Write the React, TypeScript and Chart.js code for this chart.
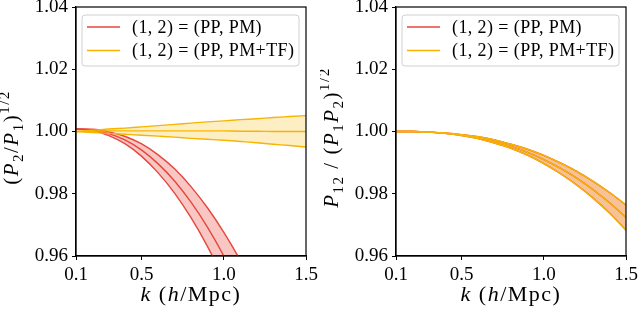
import React, { useEffect, useRef } from "react";
import { Chart, registerables } from "chart.js";

Chart.register(...registerables);

// ---------- data ----------
const K = [0.1, 0.2, 0.3, 0.4, 0.5, 0.6, 0.7, 0.8, 0.9, 1.0, 1.1, 1.2, 1.3, 1.4, 1.5];
const K_RED_LEFT = [0.1, 0.2, 0.3, 0.4, 0.5, 0.6, 0.7, 0.8, 0.9, 1.0, 1.1, 1.2];

const X_TICKS = [0.1, 0.5, 1.0, 1.5];
const Y_TICKS = [0.96, 0.98, 1.0, 1.02, 1.04];

// left panel: (P2/P1)^1/2
const L_RED_CENTER = [1.0008, 1.0005, 0.9993, 0.9972, 0.994, 0.9896, 0.9841, 0.9773, 0.9693, 0.96, 0.9494, 0.9374];
const L_RED_UPPER = [1.0008, 1.0007, 0.9999, 0.9984, 0.996, 0.9925, 0.988, 0.9823, 0.9755, 0.9676, 0.9586, 0.9484];
const L_RED_LOWER = [1.0008, 1.0003, 0.9987, 0.996, 0.992, 0.9867, 0.9802, 0.9723, 0.9631, 0.9524, 0.9402, 0.9264];

const L_YEL_CENTER = [1.0, 1.0001, 1.0002, 1.0002, 1.0002, 1.0002, 1.0002, 1.0002, 1.0002, 1.0002, 1.0001, 1.0001, 1.0, 1.0, 1.0];
const L_YEL_UPPER = [1.0, 1.0004, 1.0008, 1.0011, 1.0015, 1.0019, 1.0023, 1.0027, 1.0031, 1.0034, 1.0038, 1.0041, 1.0045, 1.0048, 1.0051];
const L_YEL_LOWER = [1.0, 0.9997, 0.9994, 0.9991, 0.9988, 0.9985, 0.9982, 0.9978, 0.9975, 0.9972, 0.9968, 0.9964, 0.9959, 0.9955, 0.995];

// right panel: P12 / (P1 P2)^1/2
const R_RED_CENTER = [1.0, 1.0, 0.9998, 0.9994, 0.9989, 0.998, 0.9968, 0.9952, 0.9933, 0.991, 0.9882, 0.985, 0.9813, 0.9771, 0.9724];
const R_RED_UPPER = [1.0, 1.0, 0.9998, 0.9995, 0.999, 0.9983, 0.9973, 0.9959, 0.9943, 0.9923, 0.9899, 0.9872, 0.984, 0.9804, 0.9764];
const R_RED_LOWER = [1.0, 1.0, 0.9998, 0.9994, 0.9987, 0.9977, 0.9963, 0.9946, 0.9924, 0.9897, 0.9865, 0.9828, 0.9786, 0.9738, 0.9683];

const R_YEL_CENTER = [1.0, 1.0, 0.9998, 0.9994, 0.9989, 0.998, 0.9968, 0.9952, 0.9933, 0.991, 0.9882, 0.985, 0.9813, 0.9771, 0.9724];
const R_YEL_UPPER = [1.0, 1.0, 0.9998, 0.9995, 0.999, 0.9983, 0.9973, 0.9959, 0.9943, 0.9923, 0.9899, 0.9872, 0.984, 0.9804, 0.9764];
const R_YEL_LOWER = [1.0, 1.0, 0.9998, 0.9994, 0.9987, 0.9977, 0.9963, 0.9946, 0.9924, 0.9897, 0.9865, 0.9828, 0.9786, 0.9738, 0.9683];

const LEGEND_LABELS = ["(1, 2) = (PP, PM)", "(1, 2) = (PP, PM+TF)"];

// ---------- styles ----------
const FONT = '"Liberation Serif", "DejaVu Serif", serif';
const RED = "#e8453c";
const RED_FILL = "rgba(232,69,60,0.30)";
const YEL = "#f7b500";
const YEL_FILL = "rgba(247,181,0,0.23)";

type Seg = { t: string; it?: boolean; sc?: "sub" | "sup" };

const X_TITLE: Seg[] = [{ t: "k", it: true }, { t: " (" }, { t: "h", it: true }, { t: "/Mpc)" }];
const Y_TITLE_LEFT: Seg[] = [
  { t: "(" }, { t: "P", it: true }, { t: "2", sc: "sub" }, { t: "/" },
  { t: "P", it: true }, { t: "1", sc: "sub" }, { t: ")" }, { t: "1/2", sc: "sup" },
];
const Y_TITLE_RIGHT: Seg[] = [
  { t: "P", it: true }, { t: "12", sc: "sub" }, { t: " / (" },
  { t: "P", it: true }, { t: "1", sc: "sub" }, { t: "P", it: true }, { t: "2", sc: "sub" },
  { t: ")" }, { t: "1/2", sc: "sup" },
];

function drawRich(
  ctx: CanvasRenderingContext2D,
  segs: Seg[],
  cx: number,
  cy: number,
  rotate: boolean,
  size: number,
  spacing: number
) {
  ctx.save();
  ctx.translate(cx, cy);
  if (rotate) ctx.rotate(-Math.PI / 2);
  (ctx as any).letterSpacing = `${spacing}px`;
  const fontFor = (s: Seg) => `${s.it ? "italic " : ""}${s.sc ? Math.round(size * 0.7) : size}px ${FONT}`;
  const widths: number[] = [];
  let total = 0;
  for (const s of segs) {
    ctx.font = fontFor(s);
    const w = ctx.measureText(s.t).width;
    widths.push(w);
    total += w;
  }
  let x = -total / 2;
  ctx.textBaseline = "alphabetic";
  ctx.textAlign = "left";
  ctx.fillStyle = "#000";
  const base = size * 0.33;
  segs.forEach((s, i) => {
    ctx.font = fontFor(s);
    const dy = s.sc === "sub" ? size * 0.22 : s.sc === "sup" ? -size * 0.42 : 0;
    ctx.fillText(s.t, x, base + dy);
    x += widths[i];
  });
  ctx.restore();
}

function line(label: string, xs: number[], ys: number[], color: string, fill: any, bg: string) {
  return {
    label,
    data: xs.map((x, i) => ({ x, y: ys[i] })),
    borderColor: color,
    backgroundColor: bg,
    borderWidth: 1.4,
    pointRadius: 0,
    fill,
    cubicInterpolationMode: "monotone" as const,
  };
}

function makeDeco(yTitle: Seg[]) {
  return {
    id: "deco",
    afterDraw(chart: any) {
      const ctx: CanvasRenderingContext2D = chart.ctx;
      const a = chart.chartArea;
      ctx.save();
      ctx.strokeStyle = "#000";
      ctx.lineWidth = 1.2;
      ctx.strokeRect(a.left, a.top, a.right - a.left, a.bottom - a.top);
      ctx.restore();

      // legend
      const lx = a.left + 6, ly = a.top + 8, lw = 217, lh = 51;
      ctx.save();
      ctx.beginPath();
      const r = 3;
      ctx.moveTo(lx + r, ly);
      ctx.arcTo(lx + lw, ly, lx + lw, ly + lh, r);
      ctx.arcTo(lx + lw, ly + lh, lx, ly + lh, r);
      ctx.arcTo(lx, ly + lh, lx, ly, r);
      ctx.arcTo(lx, ly, lx + lw, ly, r);
      ctx.closePath();
      ctx.fillStyle = "rgba(255,255,255,0.8)";
      ctx.fill();
      ctx.strokeStyle = "#d0d0d0";
      ctx.lineWidth = 1;
      ctx.stroke();
      const colors = [RED, YEL];
      LEGEND_LABELS.forEach((lab, i) => {
        const yy = ly + 12 + i * 23.5;
        ctx.strokeStyle = colors[i];
        ctx.lineWidth = 1.6;
        ctx.beginPath();
        ctx.moveTo(lx + 5, yy);
        ctx.lineTo(lx + 38, yy);
        ctx.stroke();
        ctx.fillStyle = "#000";
        ctx.font = `18px ${FONT}`;
        (ctx as any).letterSpacing = "0.4px";
        ctx.textBaseline = "middle";
        ctx.textAlign = "left";
        ctx.fillText(lab, lx + 50, yy + 1);
      });
      ctx.restore();

      // axis titles
      drawRich(ctx, X_TITLE, (a.left + a.right) / 2, 294, false, 22, 1.5);
      drawRich(ctx, yTitle, 11, (a.top + a.bottom) / 2 + 6, true, 21, 1.5);
    },
  };
}

function buildConfig(datasets: any[], yTitle: Seg[]): any {
  return {
    type: "line",
    data: { datasets },
    options: {
      responsive: false,
      animation: false,
      events: [],
      layout: { padding: { top: 7, right: 14, bottom: 0, left: 0 } },
      plugins: {
        legend: { display: false },
        tooltip: { enabled: false },
        filler: { drawTime: "beforeDatasetsDraw" },
      },
      scales: {
        x: {
          type: "linear",
          min: 0.1,
          max: 1.5,
          afterBuildTicks: (s: any) => {
            s.ticks = X_TICKS.map((v) => ({ value: v }));
          },
          afterFit: (s: any) => {
            s.height = 56;
            s.paddingLeft = 0;
            s.paddingRight = 0;
          },
          ticks: {
            callback: (v: any) => Number(v).toFixed(1),
            color: "#000",
            font: { family: FONT, size: 19 },
            padding: 4,
            maxRotation: 0,
            autoSkip: false,
          },
          grid: { display: true, drawOnChartArea: false, drawTicks: true, tickLength: 4, color: "#000", lineWidth: 1 },
          border: { display: true, color: "#000", width: 1.2 },
        },
        y: {
          type: "linear",
          min: 0.96,
          max: 1.04,
          afterBuildTicks: (s: any) => {
            s.ticks = Y_TICKS.map((v) => ({ value: v }));
          },
          afterFit: (s: any) => {
            s.width = 76;
            s.paddingTop = 0;
            s.paddingBottom = 0;
          },
          ticks: {
            callback: (v: any) => Number(v).toFixed(2),
            color: "#000",
            font: { family: FONT, size: 19 },
            padding: 4,
            autoSkip: false,
          },
          grid: { display: true, drawOnChartArea: false, drawTicks: true, tickLength: 4, color: "#000", lineWidth: 1 },
          border: { display: true, color: "#000", width: 1.2 },
        },
      },
    },
    plugins: [makeDeco(yTitle)],
  };
}

function Panel({ which }: { which: "left" | "right" }) {
  const ref = useRef<HTMLCanvasElement | null>(null);
  useEffect(() => {
    if (!ref.current) return;
    let datasets: any[];
    if (which === "left") {
      datasets = [
        line("yu", K, L_YEL_UPPER, YEL, "+1", YEL_FILL),
        line("yl", K, L_YEL_LOWER, YEL, false, YEL_FILL),
        line("yc", K, L_YEL_CENTER, YEL, false, YEL_FILL),
        line("ru", K_RED_LEFT, L_RED_UPPER, RED, "+1", RED_FILL),
        line("rl", K_RED_LEFT, L_RED_LOWER, RED, false, RED_FILL),
        line("rc", K_RED_LEFT, L_RED_CENTER, RED, false, RED_FILL),
      ];
    } else {
      datasets = [
        line("yu", K, R_YEL_UPPER, YEL, "+1", YEL_FILL),
        line("yl", K, R_YEL_LOWER, YEL, false, YEL_FILL),
        line("yc", K, R_YEL_CENTER, YEL, false, YEL_FILL),
        line("ru", K, R_RED_UPPER, RED, "+1", RED_FILL),
        line("rl", K, R_RED_LOWER, RED, false, RED_FILL),
        line("rc", K, R_RED_CENTER, RED, false, RED_FILL),
      ];
    }
    const chart = new Chart(ref.current, buildConfig(datasets, which === "left" ? Y_TITLE_LEFT : Y_TITLE_RIGHT));
    return () => chart.destroy();
  }, [which]);
  return <canvas ref={ref} width={320} height={312} style={{ display: "block", width: 320, height: 312 }} />;
}

export default function App() {
  return (
    <div style={{ position: "absolute", left: 0, top: 0, width: 640, height: 312, display: "flex", background: "#fff" }}>
      <Panel which="left" />
      <Panel which="right" />
    </div>
  );
}
